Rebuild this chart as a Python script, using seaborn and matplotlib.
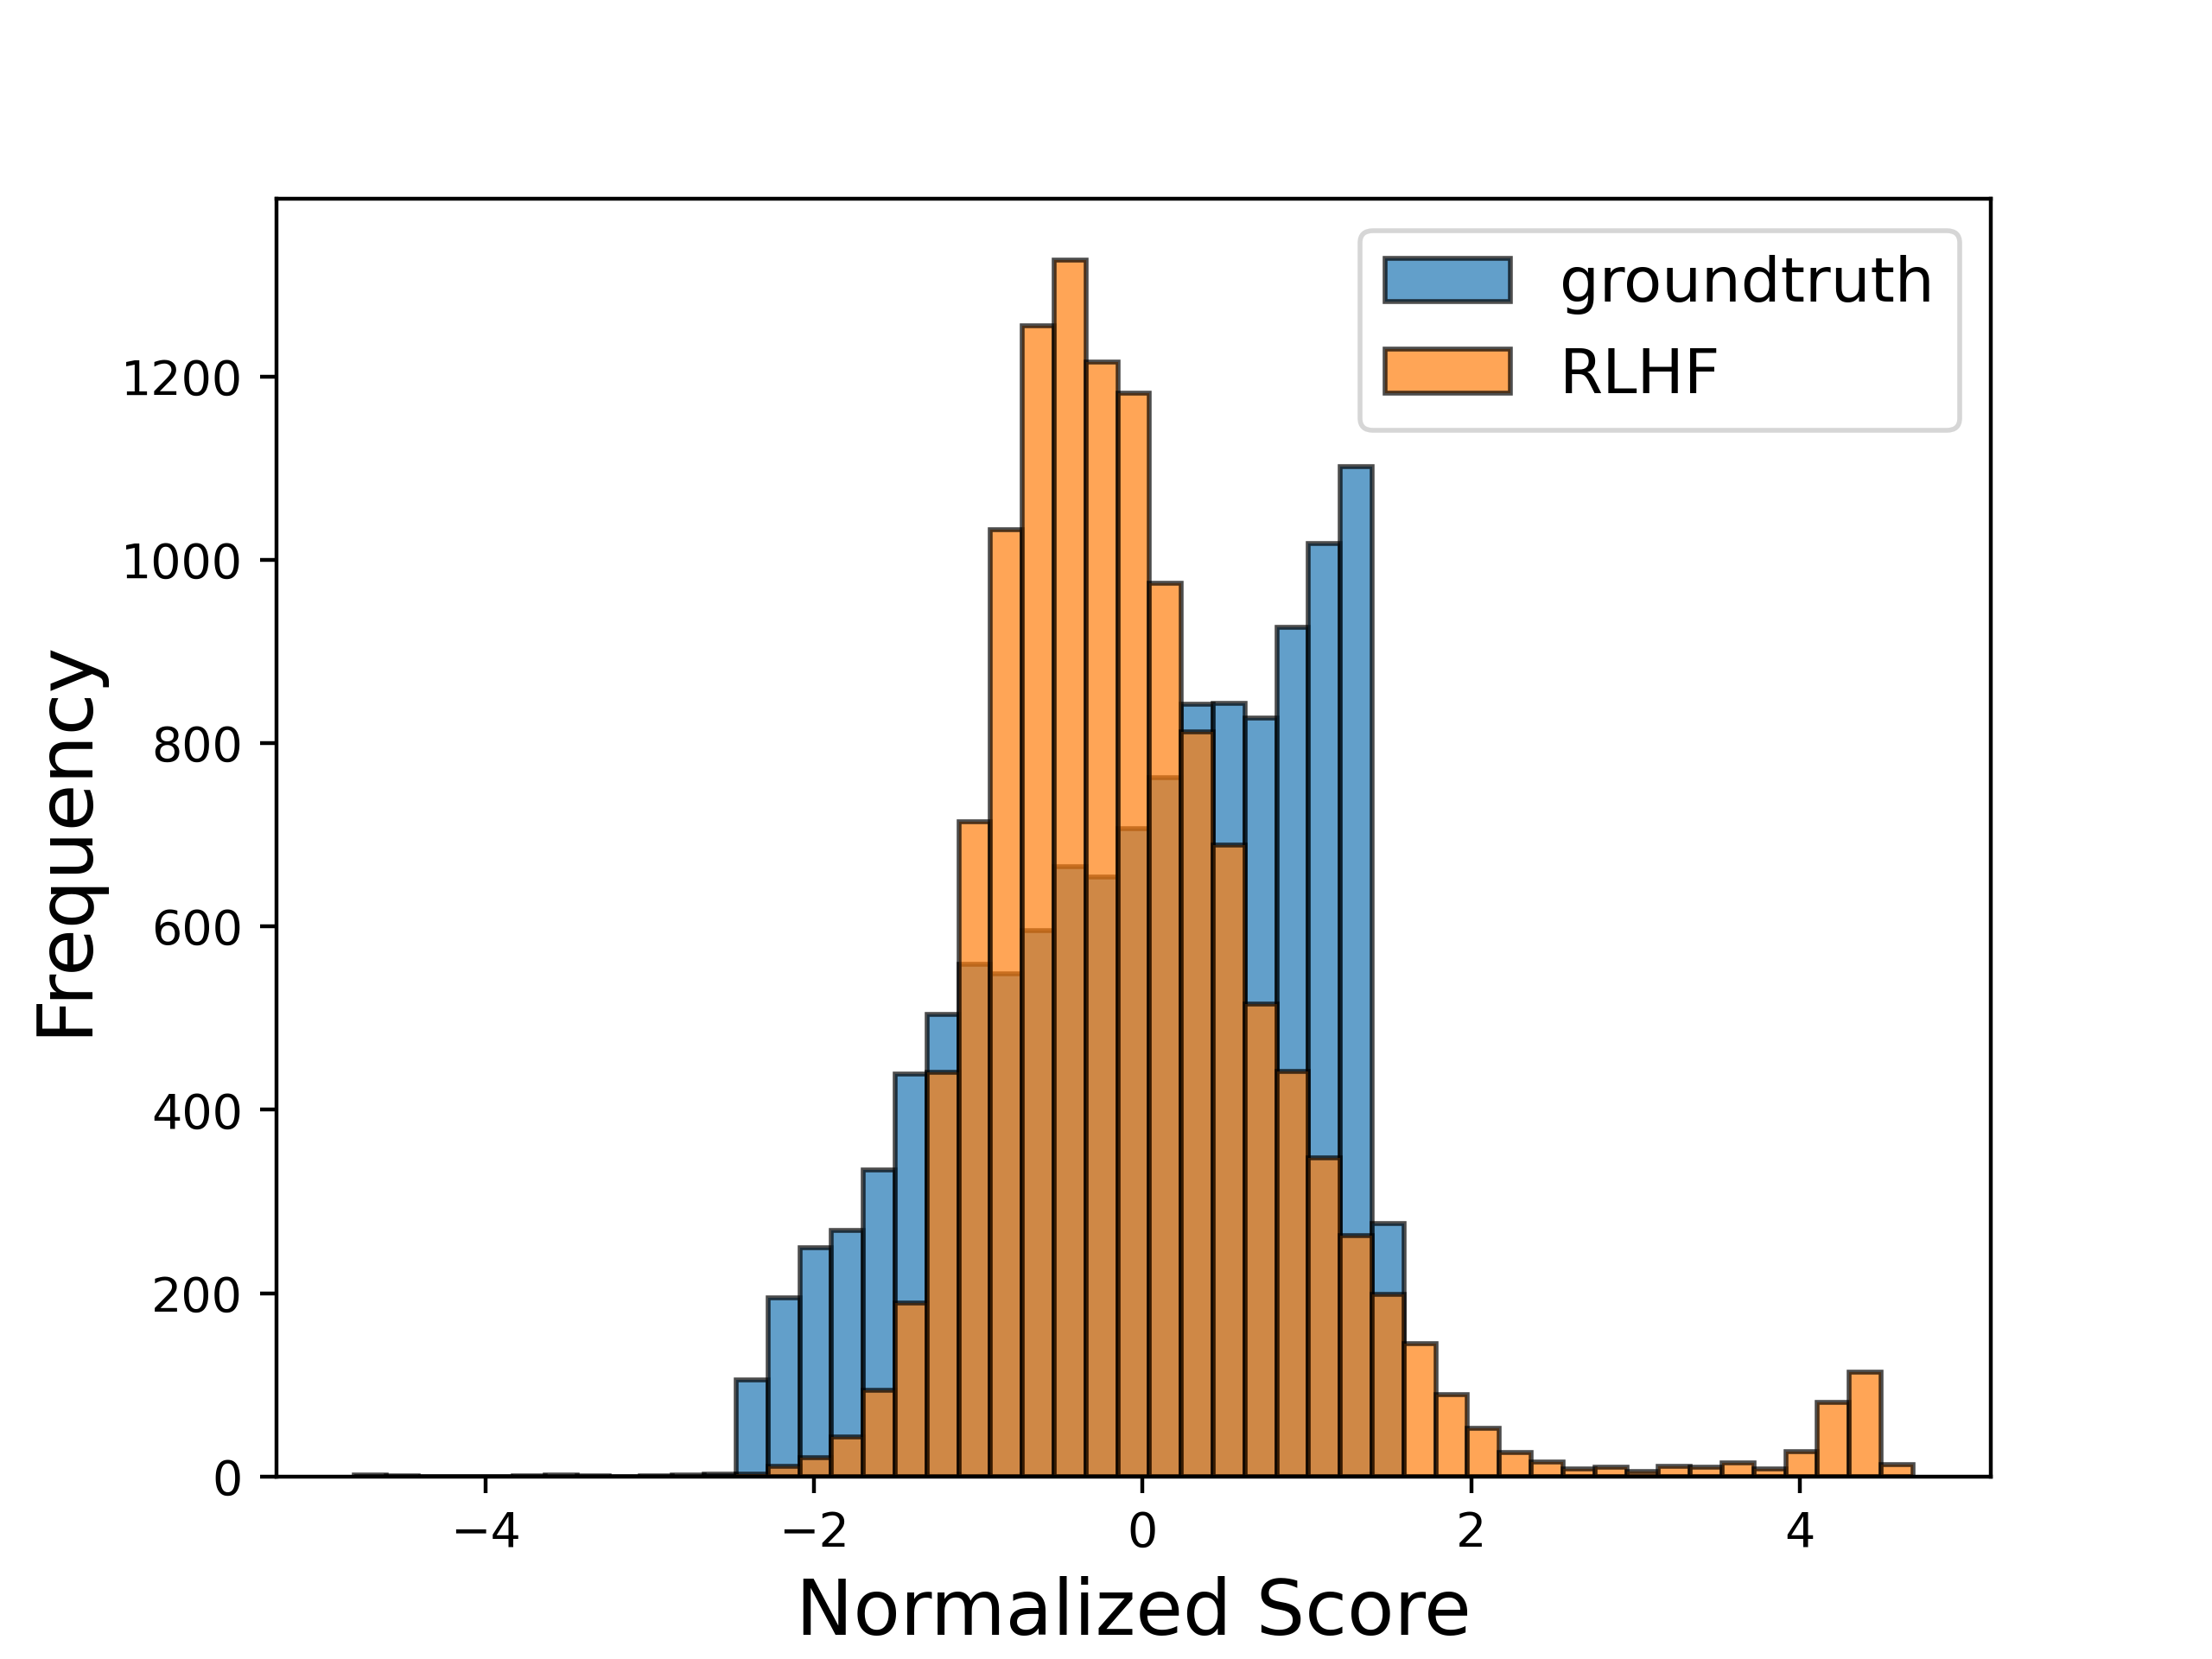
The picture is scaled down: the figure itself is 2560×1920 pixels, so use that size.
import numpy as np
import pandas as pd
import seaborn as sb
import matplotlib
matplotlib.use("Agg")
import matplotlib.pyplot as plt

# shared bin edges (49 bins between data min and max)
edges = list(np.linspace(-4.80, 4.69, 50))

# counts per bin
groundtruth_counts = [2, 1, 0, 0, 0, 1, 2, 1, 0, 1, 2, 3,
                      105, 195, 250, 268, 334, 439, 504, 559, 548, 595,
                      665, 654, 707, 762, 842, 843, 827, 926, 1018, 1102,
                      276, 0, 0, 0, 0, 0, 0, 0, 0, 0,
                      0, 0, 0, 0, 0, 0, 0]
rlhf_counts = [0, 0, 0, 0, 0, 0, 0, 0, 0, 0, 0, 1,
               3, 11, 21, 43, 94, 189, 441, 714, 1033, 1255,
               1327, 1216, 1182, 974, 812, 689, 515, 442, 348, 263,
               199, 145, 89, 53, 26, 16, 8, 10, 5, 11,
               10, 15, 8, 27, 81, 114, 13]

centers = [(a + b) / 2 for a, b in zip(edges[:-1], edges[1:])]

gt = pd.DataFrame({"score": centers, "count": groundtruth_counts})
rl = pd.DataFrame({"score": centers, "count": rlhf_counts})

fig = plt.figure(figsize=(6.4, 4.8), dpi=400)
ax = fig.add_subplot(111)

# edges get the same transparency as the faces
edge = (0, 0, 0, 0.7)

#blue first, orange drawn over it
sb.histplot(data=gt, x="score", weights="count", bins=edges, color="tab:blue",
            alpha=0.7, edgecolor=edge, linewidth=1, label="groundtruth", ax=ax)
sb.histplot(data=rl, x="score", weights="count", bins=edges, color="tab:orange",
            alpha=0.7, edgecolor=edge, linewidth=1, label="RLHF", ax=ax)

ax.set_xlabel("Normalized Score", fontsize=16)
ax.set_ylabel("Frequency", fontsize=16)
ax.legend(fontsize=13)

fig.savefig("out.png", dpi=400)
